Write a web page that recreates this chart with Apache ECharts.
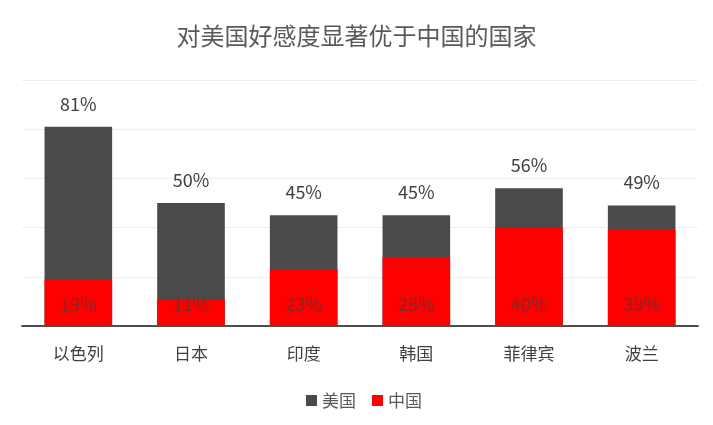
<!DOCTYPE html>
<html>
<head>
<meta charset="utf-8">
<script src="https://cdn.jsdelivr.net/npm/echarts@6/dist/echarts.min.js"></script>
<style>
  html, body { margin: 0; padding: 0; background: #fff; }
  #chart { width: 713px; height: 425px; }
</style>
</head>
<body>
<div id="chart"></div>
<script>
var categories = ['以色列', '日本', '印度', '韩国', '菲律宾', '波兰'];
var usValues = [81, 50, 45, 45, 56, 49];
var cnValues = [19, 11, 23, 28, 40, 39];

var font = '"Microsoft YaHei", "Noto Sans CJK SC", sans-serif';
var myChart = echarts.init(document.getElementById('chart'));

var option = {
    backgroundColor: '#fff',
    textStyle: { fontFamily: font },
    title: {
        text: '对美国好感度显著优于中国的国家',
        left: 'center',
        top: 19,
        textStyle: { fontSize: 24, fontWeight: 'normal', color: '#595959', fontFamily: font }
    },
    legend: {
        bottom: 11,
        left: 301,
        itemWidth: 11,
        itemHeight: 11,
        itemGap: 16,
        icon: 'rect',
        textStyle: { fontSize: 17, color: '#595959', fontFamily: font },
        data: ['美国', '中国']
    },
    grid: { left: 22, right: 15, top: 80, bottom: 99 },
    xAxis: {
        type: 'category',
        data: categories,
        axisTick: { show: false },
        axisLine: { lineStyle: { color: '#4f4f4f', width: 2 } },
        axisLabel: { fontSize: 17, color: '#404040', margin: 19, fontFamily: font }
    },
    yAxis: {
        type: 'value',
        min: 0,
        max: 100,
        interval: 20,
        axisLabel: { show: false },
        axisLine: { show: false },
        axisTick: { show: false },
        splitLine: { lineStyle: { color: '#eeeeee', width: 1 } }
    },
    series: [{
        name: '美国',
        type: 'bar',
        data: usValues,
        barWidth: '60%',
        barGap: '-100%',
        itemStyle: { color: '#4a4a4a' },
        label: {
            show: true,
            position: 'top',
            distance: 14,
            formatter: '{c}%',
            fontSize: 18,
            color: '#404040',
            fontFamily: font
        }
    }, {
        name: '中国',
        type: 'bar',
        data: cnValues,
        barWidth: '60%',
        itemStyle: { color: '#ff0000' },
        label: {
            show: true,
            position: 'insideBottom',
            distance: 13,
            formatter: '{c}%',
            fontSize: 18,
            color: '#822828',
            fontFamily: font
        }
    }]
};
myChart.setOption(option);
</script>
</body>
</html>
